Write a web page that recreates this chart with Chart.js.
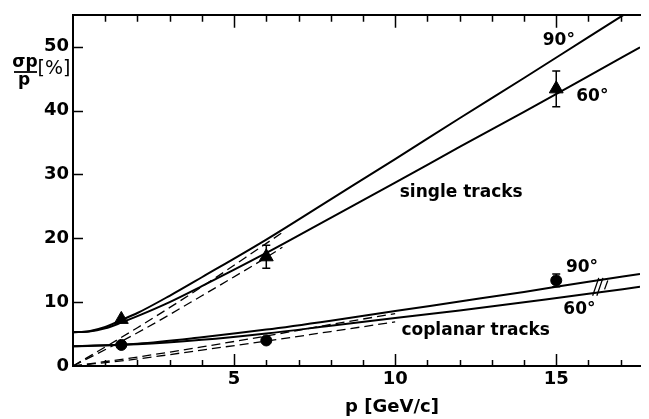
<!DOCTYPE html>
<html>
<head>
<meta charset="utf-8">
<script src="https://cdn.jsdelivr.net/npm/chart.js@4/dist/chart.umd.min.js"></script>
<style>
  html, body { margin: 0; padding: 0; background: #fff; }
  #wrap { width: 649px; height: 419px; }
</style>
</head>
<body>
<div id="wrap"><canvas id="c" width="649" height="419"></canvas></div>
<script>
// Momentum resolution sigma_p/p [%] versus p [GeV/c]

// x-axis labelled ticks and y-axis ticks
const xTickLabels = [5, 10, 15];
const yTickLabels = [0, 10, 20, 30, 40, 50];

// single tracks, full resolution (solid curves)
const singleP  = [0, 0.5, 1, 1.5, 2, 3, 4, 6, 8, 10, 12, 14, 16, 17.6];
const single90 = [5.3, 5.45, 6.1, 7.2, 8.3, 11.0, 13.9, 19.8, 26.1, 32.4, 38.8, 45.1, 51.5, 56.6];
const single60 = [5.3, 5.4, 5.9, 6.8, 7.8, 10.0, 12.5, 17.7, 23.2, 28.7, 34.3, 39.8, 45.4, 49.9];

// single tracks, measurement term only (dashed)
const singleDashP  = [0, 2, 4, 6, 6.5];
const singleDash90 = [0, 6.0, 12.4, 19.2, 20.9];
const singleDash60 = [0, 5.2, 11.0, 17.0, 18.6];

// coplanar tracks, full resolution (solid curves)
const coplanarP  = [0, 2, 4, 6, 8, 10, 12, 14, 16, 17.6];
const coplanar90 = [3.1, 3.5, 4.5, 5.7, 7.1, 8.6, 10.1, 11.6, 13.2, 14.4];
const coplanar60 = [3.1, 3.4, 4.1, 5.1, 6.3, 7.5, 8.7, 10.0, 11.3, 12.4];

// coplanar tracks, measurement term only (dashed)
const coplanarDashP  = [0, 2, 4, 6, 8, 10];
const coplanarDash90 = [0, 1.4, 3.0, 4.7, 6.5, 8.2];
const coplanarDash60 = [0, 1.1, 2.5, 3.9, 5.4, 6.9];

// measured points with errors
const measP          = [1.5, 6, 15];
const singleMeas     = [7.3, 17.1, 43.4];
const singleErr      = [0, 1.8, 2.8];
const coplanarMeas   = [3.3, 4.0, 13.4];
const coplanarErr    = [0, 0, 1.0];

const FONT = '"DejaVu Sans", sans-serif';

const pts = (xs, ys) => xs.map((x, i) => ({ x: x, y: ys[i] }));

function curve(xs, ys, dashed) {
  return {
    type: 'line',
    data: pts(xs, ys),
    borderColor: '#000',
    borderWidth: dashed ? 1.3 : 2,
    borderDash: dashed ? [9, 5] : [],
    pointRadius: 0,
    fill: false,
    cubicInterpolationMode: 'monotone',
    clip: 0
  };
}

function markers(ys, errs, style, radius) {
  return {
    type: 'scatter',
    data: pts(measP, ys),
    errors: errs,
    pointStyle: style,
    pointRadius: radius,
    backgroundColor: '#000',
    borderColor: '#000',
    borderWidth: 1
  };
}

// text placed in data coordinates
const notes = [
  { text: '90°', x: 15.08, y: 51.0 },
  { text: '60°', x: 16.12, y: 42.2 },
  { text: 'single tracks', x: 12.05, y: 27.2 },
  { text: 'coplanar tracks', x: 12.5, y: 5.5 },
  { text: '90°', x: 15.8, y: 15.4 },
  { text: '60°', x: 15.72, y: 8.9 }
];

const decor = {
  id: 'decor',
  afterDatasetsDraw(chart) {
    const ctx = chart.ctx;
    const xs = chart.scales.x, ys = chart.scales.y;
    const area = chart.chartArea;
    ctx.save();
    ctx.strokeStyle = '#000';
    ctx.fillStyle = '#000';

    // error bars
    chart.data.datasets.forEach(ds => {
      if (!ds.errors) return;
      ds.data.forEach((d, i) => {
        const e = ds.errors[i];
        if (!e) return;
        const px = xs.getPixelForValue(d.x);
        const top = ys.getPixelForValue(d.y + e);
        const bot = ys.getPixelForValue(d.y - e);
        ctx.lineWidth = 1.5;
        ctx.beginPath();
        ctx.moveTo(px, top); ctx.lineTo(px, bot);
        ctx.moveTo(px - 4, top); ctx.lineTo(px + 4, top);
        ctx.moveTo(px - 4, bot); ctx.lineTo(px + 4, bot);
        ctx.stroke();
      });
    });

    // inward tick marks on bottom and top axes
    ctx.lineWidth = 1.5;
    ctx.beginPath();
    for (let v = 1; v <= Math.floor(xs.max); v++) {
      const px = Math.round(xs.getPixelForValue(v)) + 0.5;
      const major = v % 5 === 0;
      ctx.moveTo(px, area.bottom); ctx.lineTo(px, area.bottom - (major ? 12 : 6));
      ctx.moveTo(px, area.top); ctx.lineTo(px, area.top + (major ? 13 : 7));
    }
    // inward ticks on the left axis
    yTickLabels.forEach(v => {
      if (v === 0) return;
      const py = Math.round(ys.getPixelForValue(v)) + 0.5;
      ctx.moveTo(area.left, py); ctx.lineTo(area.left + 10, py);
    });
    ctx.stroke();

    // break marks on the coplanar curves
    ctx.lineWidth = 1.3;
    ctx.beginPath();
    const brk = [[16.13, 11.0, 16.32, 13.8], [16.26, 11.0, 16.45, 13.8], [16.5, 12.0, 16.6, 13.4]];
    brk.forEach(b => {
      ctx.moveTo(xs.getPixelForValue(b[0]), ys.getPixelForValue(b[1]));
      ctx.lineTo(xs.getPixelForValue(b[2]), ys.getPixelForValue(b[3]));
    });
    ctx.stroke();

    // annotations
    ctx.textAlign = 'center';
    ctx.textBaseline = 'middle';
    ctx.font = 'bold 17px ' + FONT;
    notes.forEach(n => {
      ctx.fillText(n.text, xs.getPixelForValue(n.x), ys.getPixelForValue(n.y));
    });

    // axis titles
    ctx.font = 'bold 18px ' + FONT;
    ctx.fillText('p [GeV/c]', 392, 407);

    ctx.font = 'bold 17px ' + FONT;
    ctx.fillText('σp', 25, 63);
    ctx.lineWidth = 1.8;
    ctx.beginPath();
    ctx.moveTo(14, 72); ctx.lineTo(37, 72);
    ctx.stroke();
    ctx.fillText('p', 24, 81);
    ctx.font = '19px ' + FONT;
    ctx.fillText('[%]', 54, 69);

    ctx.restore();
  }
};

new Chart(document.getElementById('c'), {
  type: 'scatter',
  data: {
    datasets: [
      curve(singleP, single90, false),
      curve(singleP, single60, false),
      curve(singleDashP, singleDash90, true),
      curve(singleDashP, singleDash60, true),
      curve(coplanarP, coplanar90, false),
      curve(coplanarP, coplanar60, false),
      curve(coplanarDashP, coplanarDash90, true),
      curve(coplanarDashP, coplanarDash60, true),
      markers(singleMeas, singleErr, 'triangle', 8),
      markers(coplanarMeas, coplanarErr, 'circle', 5.5)
    ]
  },
  options: {
    responsive: false,
    animation: false,
    devicePixelRatio: 1,
    layout: { padding: { top: 6, right: 0, left: 0, bottom: 0 } },
    plugins: { legend: { display: false }, tooltip: { enabled: false } },
    scales: {
      x: {
        type: 'linear',
        position: 'bottom',
        min: 0,
        max: 17.6,
        afterBuildTicks: s => { s.ticks = xTickLabels.map(v => ({ value: v })); },
        afterFit: s => { s.height = 53; },
        grid: { display: false, drawTicks: false },
        border: { display: true, color: '#000', width: 2 },
        ticks: { color: '#000', padding: 3, font: { family: FONT, size: 18, weight: 'bold' }, maxRotation: 0 }
      },
      x2: {
        type: 'linear',
        position: 'top',
        min: 0,
        max: 17.6,
        afterFit: s => { s.height = 0; },
        grid: { display: false, drawTicks: false },
        border: { display: true, color: '#000', width: 2 },
        ticks: { display: false }
      },
      y: {
        type: 'linear',
        position: 'left',
        min: 0,
        max: 55,
        afterBuildTicks: s => { s.ticks = yTickLabels.map(v => ({ value: v })); },
        afterFit: s => { s.width = 73; },
        grid: { display: false, drawTicks: false },
        border: { display: true, color: '#000', width: 2 },
        ticks: { color: '#000', padding: 4, font: { family: FONT, size: 18, weight: 'bold' } }
      }
    }
  },
  plugins: [decor]
});
</script>
</body>
</html>
